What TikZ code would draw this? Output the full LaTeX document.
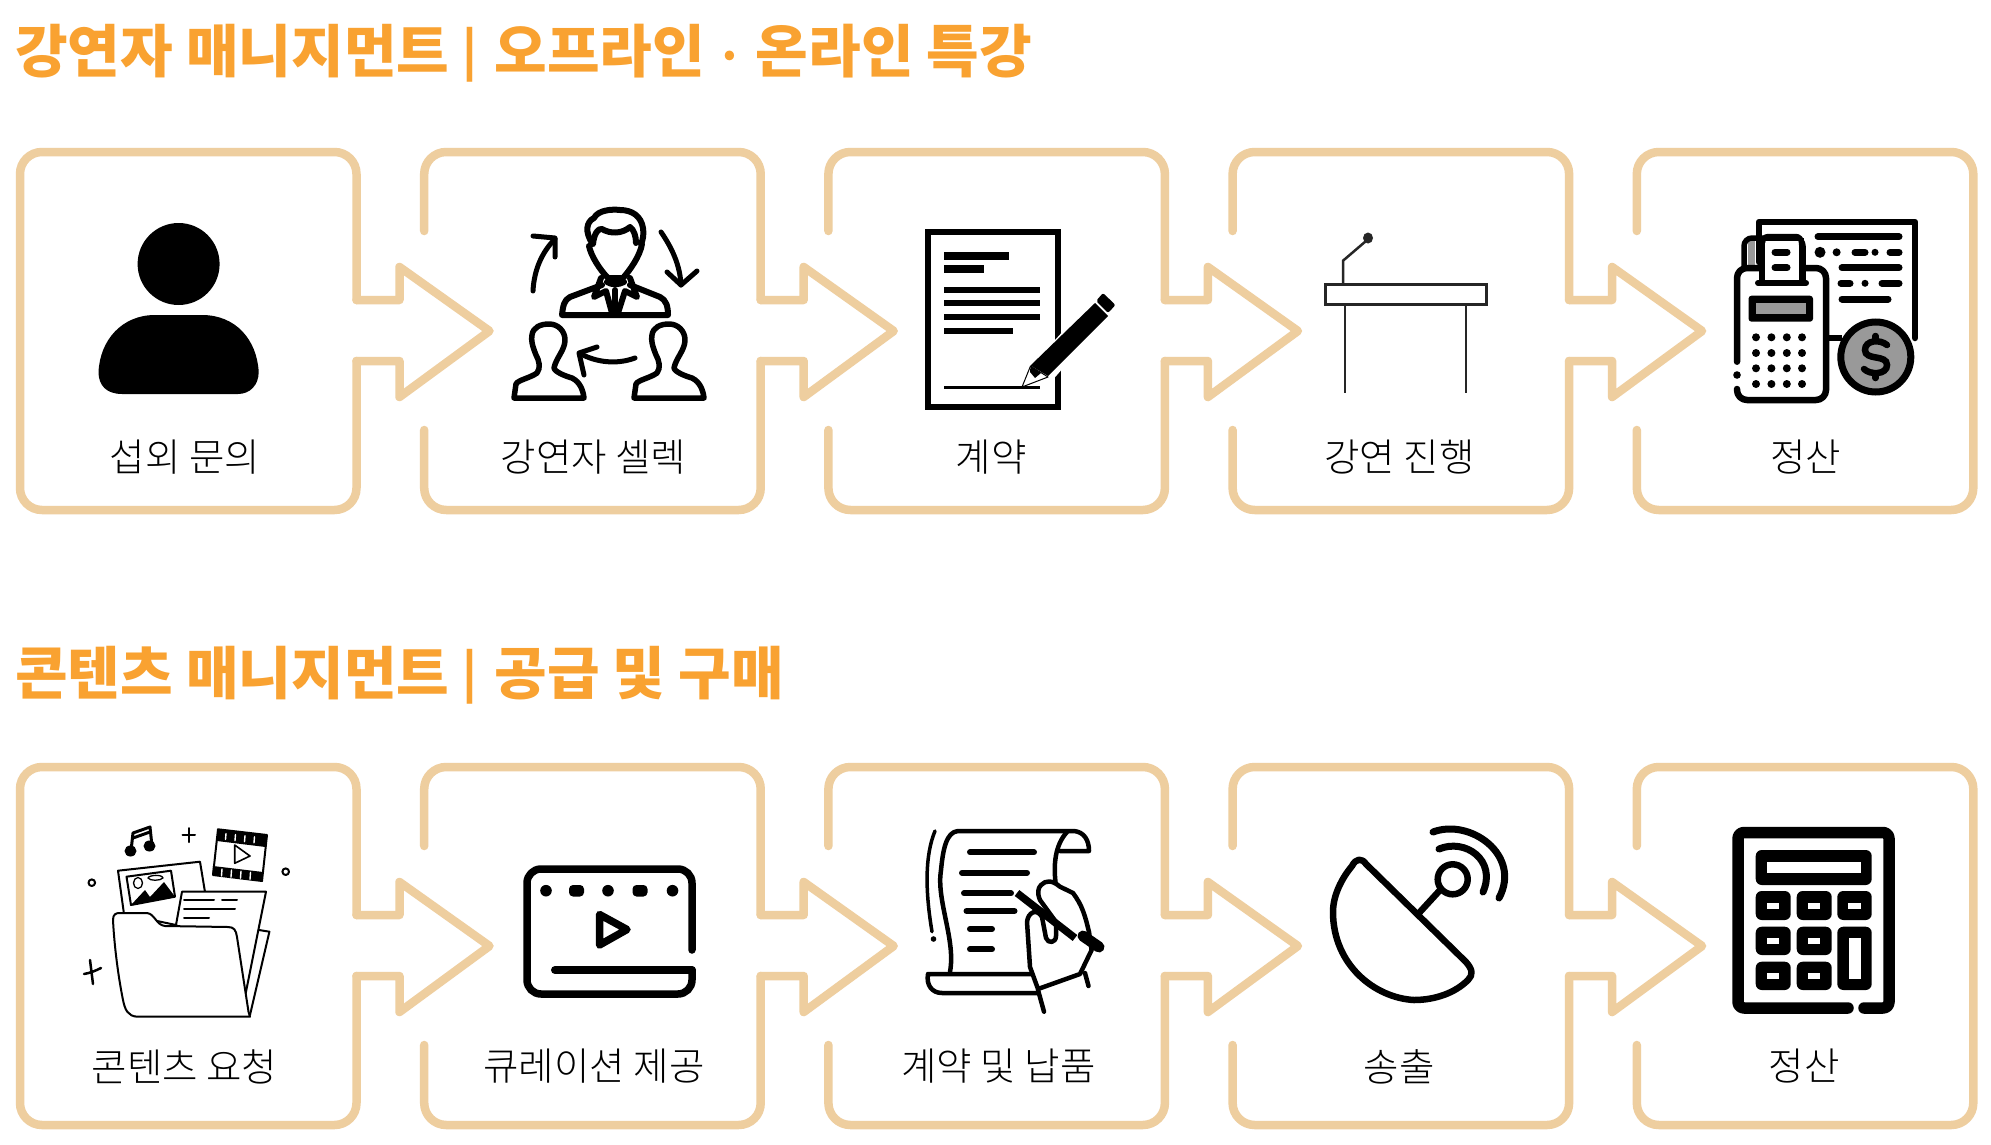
\documentclass[tikz,border=0pt]{standalone}
\usepackage{fontspec}
\setmainfont{Noto Sans CJK KR}
\IfFontExistsTF{Noto Sans CJK KR Light}{\newfontfamily\capfont{Noto Sans CJK KR Light}}{\newfontfamily\capfont{Noto Sans CJK KR}}
\definecolor{tan}{HTML}{EECE9F}
\definecolor{ttl}{HTML}{F9A231}
\definecolor{gry}{HTML}{999999}
\newcommand{\tbar}{\raisebox{3.5pt}{\fontsize{48}{48}\selectfont |}\hspace{4pt}}
\newcommand{\tdot}{{\fontsize{44}{44}\selectfont ·}}
\tikzset{
  frame/.style={draw=tan,line width=8.5pt,line cap=round,line join=round},
  cornered/.style={rounded corners=22pt},
  heading/.style={anchor=west,inner sep=0pt,text=ttl,font=\fontsize{57.2}{60}\selectfont\bfseries},
  caption/.style={inner sep=0pt,text=black,font=\capfont\fontsize{38.5}{40}\selectfont},
  ink/.style={draw=black,line width=5pt,line cap=round,line join=round},
  fineink/.style={draw=black,line width=3pt,line cap=round,line join=round},
}
\begin{document}
\begin{tikzpicture}[x=1pt,y=-1pt]
\useasboundingbox (0,0) rectangle (1991,1145);
\fill[white] (0,0) rectangle (1991,1145);
% frames
\foreach \dy in {0,615}{
 \begin{scope}[shift={(0,\dy)}]
  \foreach \i in {0,1,2,3,4}{
   \pgfmathsetmacro{\xa}{20+404.2*\i}
   \pgfmathsetmacro{\xb}{356.5+404.2*\i}
   \ifnum\i=0
     \draw[frame,cornered] (\xb,300)--(\xb,152)--(\xa,152)--(\xa,510)--(\xb,510)--(\xb,361);
   \else\ifnum\i=4
     \draw[frame,cornered] (\xa,231)--(\xa,152)--(\xb,152)--(\xb,510)--(\xa,510)--(\xa,430);
   \else
     \draw[frame,cornered] (\xa,231)--(\xa,152)--(\xb,152)--(\xb,300);
     \draw[frame,cornered] (\xa,430)--(\xa,510)--(\xb,510)--(\xb,361);
   \fi\fi
   \ifnum\i<4
     \draw[frame] (\xb,300)--++(43,0)--++(0,-33)--++(90,64)--++(-90,66)--++(0,-36)--++(-43,0);
   \fi
  }
 \end{scope}
}
% titles
\node[heading] (t1) at (15,53) {강연자 매니지먼트 \tbar{} 오프라인\hspace{-2pt} \tdot{} \hspace{0pt}온라인 특강};
\node[heading] (t2) at (15,675) {콘텐츠 매니지먼트 \tbar{} 공급 및 구매};
% captions
\node[caption] (c1) at (185,457.5) {섭외 문의};
\node[caption] (c2) at (593.5,457.5) {강연자 셀렉};
\node[caption] (c3) at (991,457.5) {계약};
\node[caption] (c4) at (1399.5,457.5) {강연 진행};
\node[caption] (c5) at (1805.5,457.5) {정산};
\node[caption] (c6) at (184.5,1066.5) {콘텐츠 요청};
\node[caption] (c7) at (594,1066.5) {큐레이션 제공};
\node[caption] (c8) at (998.5,1066.5) {계약 및 납품};
\node[caption] (c9) at (1399,1066.5) {송출};
\node[caption] (c10) at (1804,1066.5) {정산};
% icon 1 person
\fill (178.6,264) ellipse [x radius=41,y radius=41];
\fill (122,394) .. controls (106,394) and (98.5,385) .. (98.5,372) .. controls (100,340) and (122,315) .. (155,315) -- (202,315) .. controls (236,315) and (257,340) .. (258.7,372) .. controls (258.7,385) and (250,394) .. (238,394) -- cycle;
% icon 2 people
\begin{scope}[ink,line width=6pt]
 \draw (592,243) .. controls (585,232) and (586,222) .. (594,218) .. controls (598,210) and (612,209) .. (620,210) .. controls (632,210) and (641,216) .. (643,228) .. controls (644,234) and (643,240) .. (641,244);
 \draw (593,244) .. controls (594,234) and (598,228) .. (602,229) .. controls (610,234) and (622,234) .. (630,227) .. controls (634,230) and (636,236) .. (636,243);
 \draw (589,246) .. controls (591,256) and (600,270) .. (608,278) -- (623,278) .. controls (630,270) and (640,256) .. (642,244);
 \draw (602,285) -- (570,297) .. controls (564,300) and (563,306) .. (562,315) -- (668,315) .. controls (668,306) and (666,300) .. (660,297) -- (630,285);
 \draw (601,278) -- (594,297) -- (606,291) -- (612,313);
 \draw (630,278) -- (637,297) -- (625,291) -- (618,313);
 \draw (607,282) .. controls (612,285) and (618,285) .. (624,282);
 \draw (615,290) -- (615,313);
 \foreach \ox in {0,120}{
  \draw[shift={(\ox,0)},line width=5.5pt] (514,398) -- (516,384) .. controls (518,380) and (530,378) .. (537,373) .. controls (541,368) and (539,360) .. (536,355) .. controls (532,345) and (531,340) .. (532,335) .. controls (533,327) and (541,324) .. (549,324) .. controls (558,324) and (565,331) .. (565,340) .. controls (565,350) and (556,358) .. (554,368) .. controls (555,372) and (565,376) .. (572,378) .. controls (580,382) and (583,390) .. (584,398) -- cycle;
 }
 \draw[line width=5pt] (533,291) .. controls (534,270) and (542,252) .. (555,239);
 \draw[line width=5pt] (533,236) -- (555,238) -- (555,257);
 \draw[line width=5pt] (661,232) .. controls (672,248) and (680,265) .. (681,285);
 \draw[line width=5pt] (667,272) -- (681,285) -- (697,271);
 \draw[line width=5pt] (635,358) .. controls (616,365) and (596,362) .. (581,354);
 \draw[line width=5pt] (597,347) -- (579,353) -- (584,375);
\end{scope}
% icon 3 contract
\draw[black,line width=6.5pt] (928.2,232.2) rectangle (1058,407);
\fill (944.3,252) rectangle (1008.5,259.5);
\fill (944.3,265) rectangle (983.5,272.5);
\foreach \yy/\xe in {289.7/1040,303.3/1040,317/1040,330.7/1013}{\fill (944.3,\yy-3) rectangle (\xe,\yy+3);}
\fill (944.3,385.8) rectangle (1040,388.8);
\fill[white] (1026,372) -- (1094,297) -- (1118,305) -- (1050,383) -- cycle;
\fill (1030.5,365.5) -- (1095,303) -- (1108,316) -- (1048,376) -- cycle;
\fill[rounded corners=2pt] (1103,293) -- (1115.5,305) -- (1108,313) -- (1096,301) -- cycle;
\draw[fill=white,line width=1pt,line join=round] (1030.5,366) -- (1048,377) -- (1022,387) -- cycle;
\fill (1030.5,366) -- (1041,373) -- (1035,378) -- (1030,372) -- cycle;
% icon 4 podium
\draw[black!85,line width=3pt] (1325.5,284) rectangle (1486,304);
\draw[black!85,line width=2.5pt] (1345,304) -- (1345,392.7);
\draw[black!85,line width=2.5pt] (1466,304) -- (1466,392.7);
\draw[black!85,line width=2.5pt,line join=round] (1343,283) -- (1343,260.7) -- (1366,241);
\fill[black!85] (1368,238) ellipse [x radius=5,y radius=5.5];
% icon 5 register
\begin{scope}
 \draw[black,line width=6.5pt,line cap=round,line join=round] (1759,262) -- (1759,222) -- (1915,222) -- (1915,338);
 \foreach \xs/\xe/\yy in {1818/1899/236.7,1842/1899/267.7,1842/1888/299,1882/1899/283.3,1841/1850/283.3,1855/1865/252.3,1890/1899/252.3}{
   \draw[black,line width=7pt,line cap=round] (\xs,\yy) -- (\xe,\yy);}
 \foreach \xx/\yy/\rr in {1820/252.3/5.5,1836.6/252.3/4,1875/252.3/3.5,1865/283.3/3.5}{\fill (\xx,\yy) circle (\rr);}
 \fill[gry] (1748,241) rectangle (1754.6,266);
 \draw[black,line width=5.5pt,line cap=round,line join=round,rounded corners=8pt] (1744,266) -- (1744,238) -- (1803,238) -- (1803,283);
 \fill[white] (1763,241) rectangle (1801,281);
 \draw[black,line width=5.5pt,line join=round] (1761.5,236) -- (1761.5,283);
 \draw[black,line width=6.5pt,line cap=round,line join=round,rounded corners=10pt] (1737,361.7) -- (1737,268) -- (1826,268) -- (1826,400) -- (1737,400) -- (1737,389);
 \fill[white] (1763,241) rectangle (1801,280);
 \draw[black,line width=5.5pt] (1762.5,238) -- (1762.5,282) (1801.5,238) -- (1801.5,282);
 \draw[black,line width=5.5pt,rounded corners=6pt] (1762.5,240) -- (1762.5,236.5) -- (1801.5,236.5) -- (1801.5,245);
 \draw[black,line width=6pt,line cap=round] (1758,283) -- (1806,283);
 \draw[black,line width=7pt,line cap=round] (1775,252) -- (1787,252);
 \draw[black,line width=7pt,line cap=round] (1775,267.7) -- (1787,267.7);
 \fill (1737,375) circle (3.8);
 \fill[rounded corners=3pt] (1748.5,295.7) rectangle (1813,321.7);
 \fill[gry] (1756,303) rectangle (1806,314);
 \foreach \xx in {1756,1771.4,1786.8,1802}{\foreach \yy in {337.3,353,368.3,384}{\fill (\xx,\yy) circle (4);}}
 \draw[black,line width=6pt] (1829,337.5) -- (1842,337.5);
 \draw[black,fill=gry,line width=7pt] (1875.8,357) circle (35);
 \draw[black,line width=6.5pt,line cap=round] (1887,345) .. controls (1880,339) and (1865,340) .. (1865,350) .. controls (1865,361) and (1887,354) .. (1887,365) .. controls (1887,375) and (1870,375) .. (1864,369);
 \draw[black,line width=6.5pt,line cap=round] (1875.5,336) -- (1875.5,340) (1875.5,375) -- (1875.5,378);
\end{scope}
% icon 6 folder
\begin{scope}[fineink,line width=2pt]
 \draw[line width=2.5pt] (90,960) -- (93,984) (84,974) .. controls (90,973) and (95,971) .. (101,968);
 \draw (188.8,828) -- (188.8,842) (182.5,835) -- (195,835);
 \draw (91.8,882.7) circle (3.3);
 \draw (285.7,871.7) circle (3.3);
 % back folder
 \draw (259,930) -- (269.4,931.7) -- (250,1015);
 % photo
 \draw[fill=white] (118,870.7) -- (200,861.7) -- (205,892) -- (176,925) -- (124,914) -- cycle;
 \draw (126.5,876.7) -- (171,870.7) -- (175,896.7) -- (131,905) -- cycle;
 \fill (131,905) -- (145,890) -- (150,897) -- (164,882) -- (175,896.7) -- cycle;
 \draw[line width=1.3pt] (138,883) ellipse [x radius=4.5,y radius=5.5];
 \draw[line width=1.3pt] (148,878) .. controls (149,875) and (162,874) .. (163,878) .. controls (160,881) and (150,881) .. (148,878) -- cycle;
 % sheet
 \draw[fill=white] (176,925) -- (182,891.7) -- (266,891.7) -- (245,996.7) -- (232,960) -- cycle;
 \draw (184,900) -- (214,900) (222,900) -- (237,900) (184,909) -- (235,909) (184,918) -- (209,918);
 % folder
 \draw[fill=white,line join=round] (113,920) .. controls (113,914) and (116,913) .. (120,913) -- (147,913) .. controls (155,914) and (156,925) .. (165,926) -- (228,927) .. controls (234,927) and (236,930) .. (237,937) -- (248.5,1011.7) -- (250,1016.7) -- (137,1016.7) .. controls (128,1016) and (125,1010) .. (123,1000) .. controls (117,970) and (114,940) .. (113,920) -- cycle;
 % film
 \draw (213,875) -- (218,829.3) -- (267,835) -- (262,881) -- cycle;
 \fill (218,829.3) -- (267,835) -- (265.5,847) -- (217,841) -- cycle;
 \fill (213,866) -- (263,872) -- (262,881) -- (212.5,875) -- cycle;
 \foreach \k in {0,1,2,3}{
  \draw[white,line width=1.4pt] (226+9.5*\k,833.5+1.1*\k) -- (225.5+9.5*\k,839.5+1.1*\k);
  \draw[white,line width=1.4pt] (222+9.5*\k,869+1.1*\k) -- (221.5+9.5*\k,876+1.1*\k);}
 \draw[line width=1.6pt] (234.7,845) -- (250,856) -- (234.7,863.3) -- cycle;
 % note
 \draw[line width=3pt] (131,851) -- (133,833) -- (150,827) -- (152,846);
 \draw[line width=3pt] (133,838) -- (150,832);
 \fill (130.5,851) ellipse [x radius=6,y radius=5.5];
 \fill (149.5,846) ellipse [x radius=6,y radius=5.5];
\end{scope}
% icon 7 video
\draw[ink,line width=7.5pt,rounded corners=14pt] (692,950) -- (692,869) -- (527,869) -- (527,994) -- (692,994) -- (692,970);
\draw[ink,line width=8pt] (692,970) -- (555,970);
\foreach \xx in {546,608,672.5}{\fill (\xx,890.7) circle (5.8);}
\foreach \xx in {576.5,640}{\fill[rounded corners=4pt] (\xx-7.5,885) rectangle (\xx+7.5,896.5);}
\draw[ink,line width=7.5pt] (599.5,914.5) -- (627,929.5) -- (599.5,945) -- cycle;
% icon 8 scroll
\begin{scope}[ink]
 \draw[line width=3.5pt] (935,831) .. controls (925,855) and (925,890) .. (932,931.7);
 \fill (933.5,939) circle (2.8);
 \draw[line width=4.5pt] (950,971.7) .. controls (956,940) and (936,900) .. (941,870) .. controls (943,850) and (946,832) .. (958,831) -- (1074,831) .. controls (1084,832) and (1089,840) .. (1089,851) -- (1060,851);
 \draw[line width=4.5pt] (1067,832) .. controls (1055,845) and (1053,865) .. (1056,886);
 \draw[line width=4.5pt] (1033,974) -- (928,974) .. controls (926,985) and (932,993) .. (942,993) -- (1038,993);
 \draw[line width=6pt] (970,852.3) -- (1034,852.3) (962,872.7) -- (1027,872.7) (964,893.3) -- (1011,893.3) (966.5,911) -- (1014.5,911) (970,929) -- (992,929) (970,949.3) -- (992,949.3);
 \draw[line width=4.5pt,fill=white] (1041,885) .. controls (1046,880) and (1052,880) .. (1060,886.7) -- (1073,893) .. controls (1082,905) and (1085,915) .. (1089,932) -- (1091.6,950) -- (1080,974) -- (1038,989) -- (1030,967) -- (1027,922) .. controls (1028,912) and (1037,908) .. (1042,917) -- (1046,938) .. controls (1048,944) and (1056,943) .. (1056,936) -- (1056,922) -- (1040,900) .. controls (1037,893) and (1038,888) .. (1041,885) -- cycle;
 \draw[line width=7.5pt,line cap=butt] (1017,893) -- (1075,938);
 \draw[line width=11pt] (1083,936) -- (1099,947);
 \draw[line width=4.5pt] (1038,990) -- (1044,1011.7) (1085,973) -- (1088.5,986);
\end{scope}
% icon 9 dish
\begin{scope}[ink,line width=6.5pt]
 \draw (1352,866) .. controls (1356,858) and (1362,858) .. (1366,864) -- (1466,962) .. controls (1473,970) and (1473,975) .. (1468,980) .. controls (1455,993) and (1435,1000) .. (1414,1000) .. controls (1375,998) and (1333,965) .. (1333,912) .. controls (1333,895) and (1342,878) .. (1352,866) -- cycle;
 \draw (1419,913) -- (1441,889);
 \draw (1452.7,879.3) circle (15);
 \draw[line width=7pt] (1433,832) .. controls (1470,818) and (1522,855) .. (1499,898);
 \draw[line width=7pt] (1439,849) .. controls (1465,838) and (1497,860) .. (1483,892);
\end{scope}
% icon 10 calculator
\draw[black,line width=11.5pt,line cap=round,line join=round,rounded corners=6pt] (1848,1008) -- (1738,1008) -- (1738,832.5) -- (1889,832.5) -- (1889,1008) -- (1864,1008);
\fill[rounded corners=6pt] (1755.7,850) rectangle (1871.7,885);
\fill[white] (1766.7,862) rectangle (1860.7,873.3);
\foreach \xa/\xb/\ya/\yb in {1755.7/1790.7/891/920,1796.7/1831.7/891/920,1837.3/1871.7/891/920,1755.7/1790.7/926.7/955,1796.7/1831.7/926.7/955,1755.7/1790.7/961.7/990,1796.7/1831.7/961.7/990}{
 \fill[rounded corners=6pt] (\xa,\ya) rectangle (\xb,\yb);
 \fill[white] ({(\xa+\xb)/2-6.2},{(\ya+\yb)/2-3}) rectangle ({(\xa+\xb)/2+6.2},{(\ya+\yb)/2+3});
}
\fill[rounded corners=6pt] (1837.3,926.7) rectangle (1871.7,990);
\fill[white] (1849,937.7) rectangle (1860.7,979);
\end{tikzpicture}
\end{document}
